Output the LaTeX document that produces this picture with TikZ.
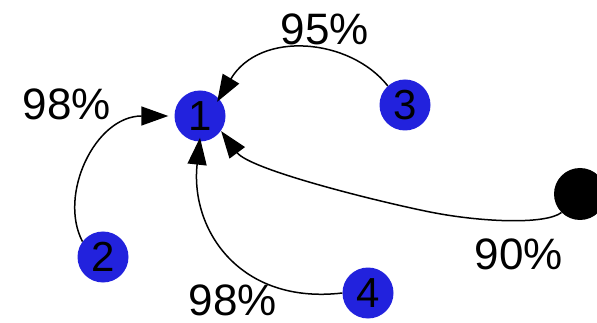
\documentclass[tikz,border=0pt]{standalone}
\usepackage{fontspec}
\setmainfont{Liberation Sans}
\usetikzlibrary{arrows.meta}
\definecolor{nodeblue}{RGB}{34,34,221}
\begin{document}
\begin{tikzpicture}[x=1pt,y=-1pt,
  vtx/.style={circle,fill=nodeblue,inner sep=0pt,minimum size=51pt,font=\fontsize{42}{42}\selectfont},
  sink/.style={circle,fill=black,inner sep=0pt,minimum size=52pt},
  lbl/.style={font=\fontsize{44}{44}\selectfont,inner sep=0pt},
  edge/.style={line width=1.5pt,-{Triangle[length=27pt,width=19pt]}}]
\useasboundingbox (0,0) rectangle (597,323);
\node[vtx] (n1) at (200,116) {1};
\node[vtx] (n2) at (103,257) {2};
\node[vtx] (n3) at (405,105) {3};
\node[vtx] (n4) at (368,293) {4};
\node[sink] (n5) at (580,194) {};
\node[lbl] (l95) at (325,29) {95\%};
\node[lbl] (l98a) at (67,104) {98\%};
\node[lbl] (l90) at (519,254) {90\%};
\node[lbl] (l98b) at (233,300) {98\%};
\draw[edge] (n2.143) .. controls (58,195) and (95,116) .. ([xshift=-6pt]n1.west);
\draw[edge] (n3.132) .. controls (350,38) and (260,30) .. ([shift={(-1pt,-4pt)}]n1.45);
\draw[edge] (n5.225) .. controls (545,225) and (480,222) .. (430,212) .. controls (380,202) and (250,170) .. ([shift={(3pt,3pt)}]n1.-45);
\draw[edge] (n4.west) .. controls (240,305) and (190,230) .. ([yshift=4pt]n1.south);
\end{tikzpicture}
\end{document}
